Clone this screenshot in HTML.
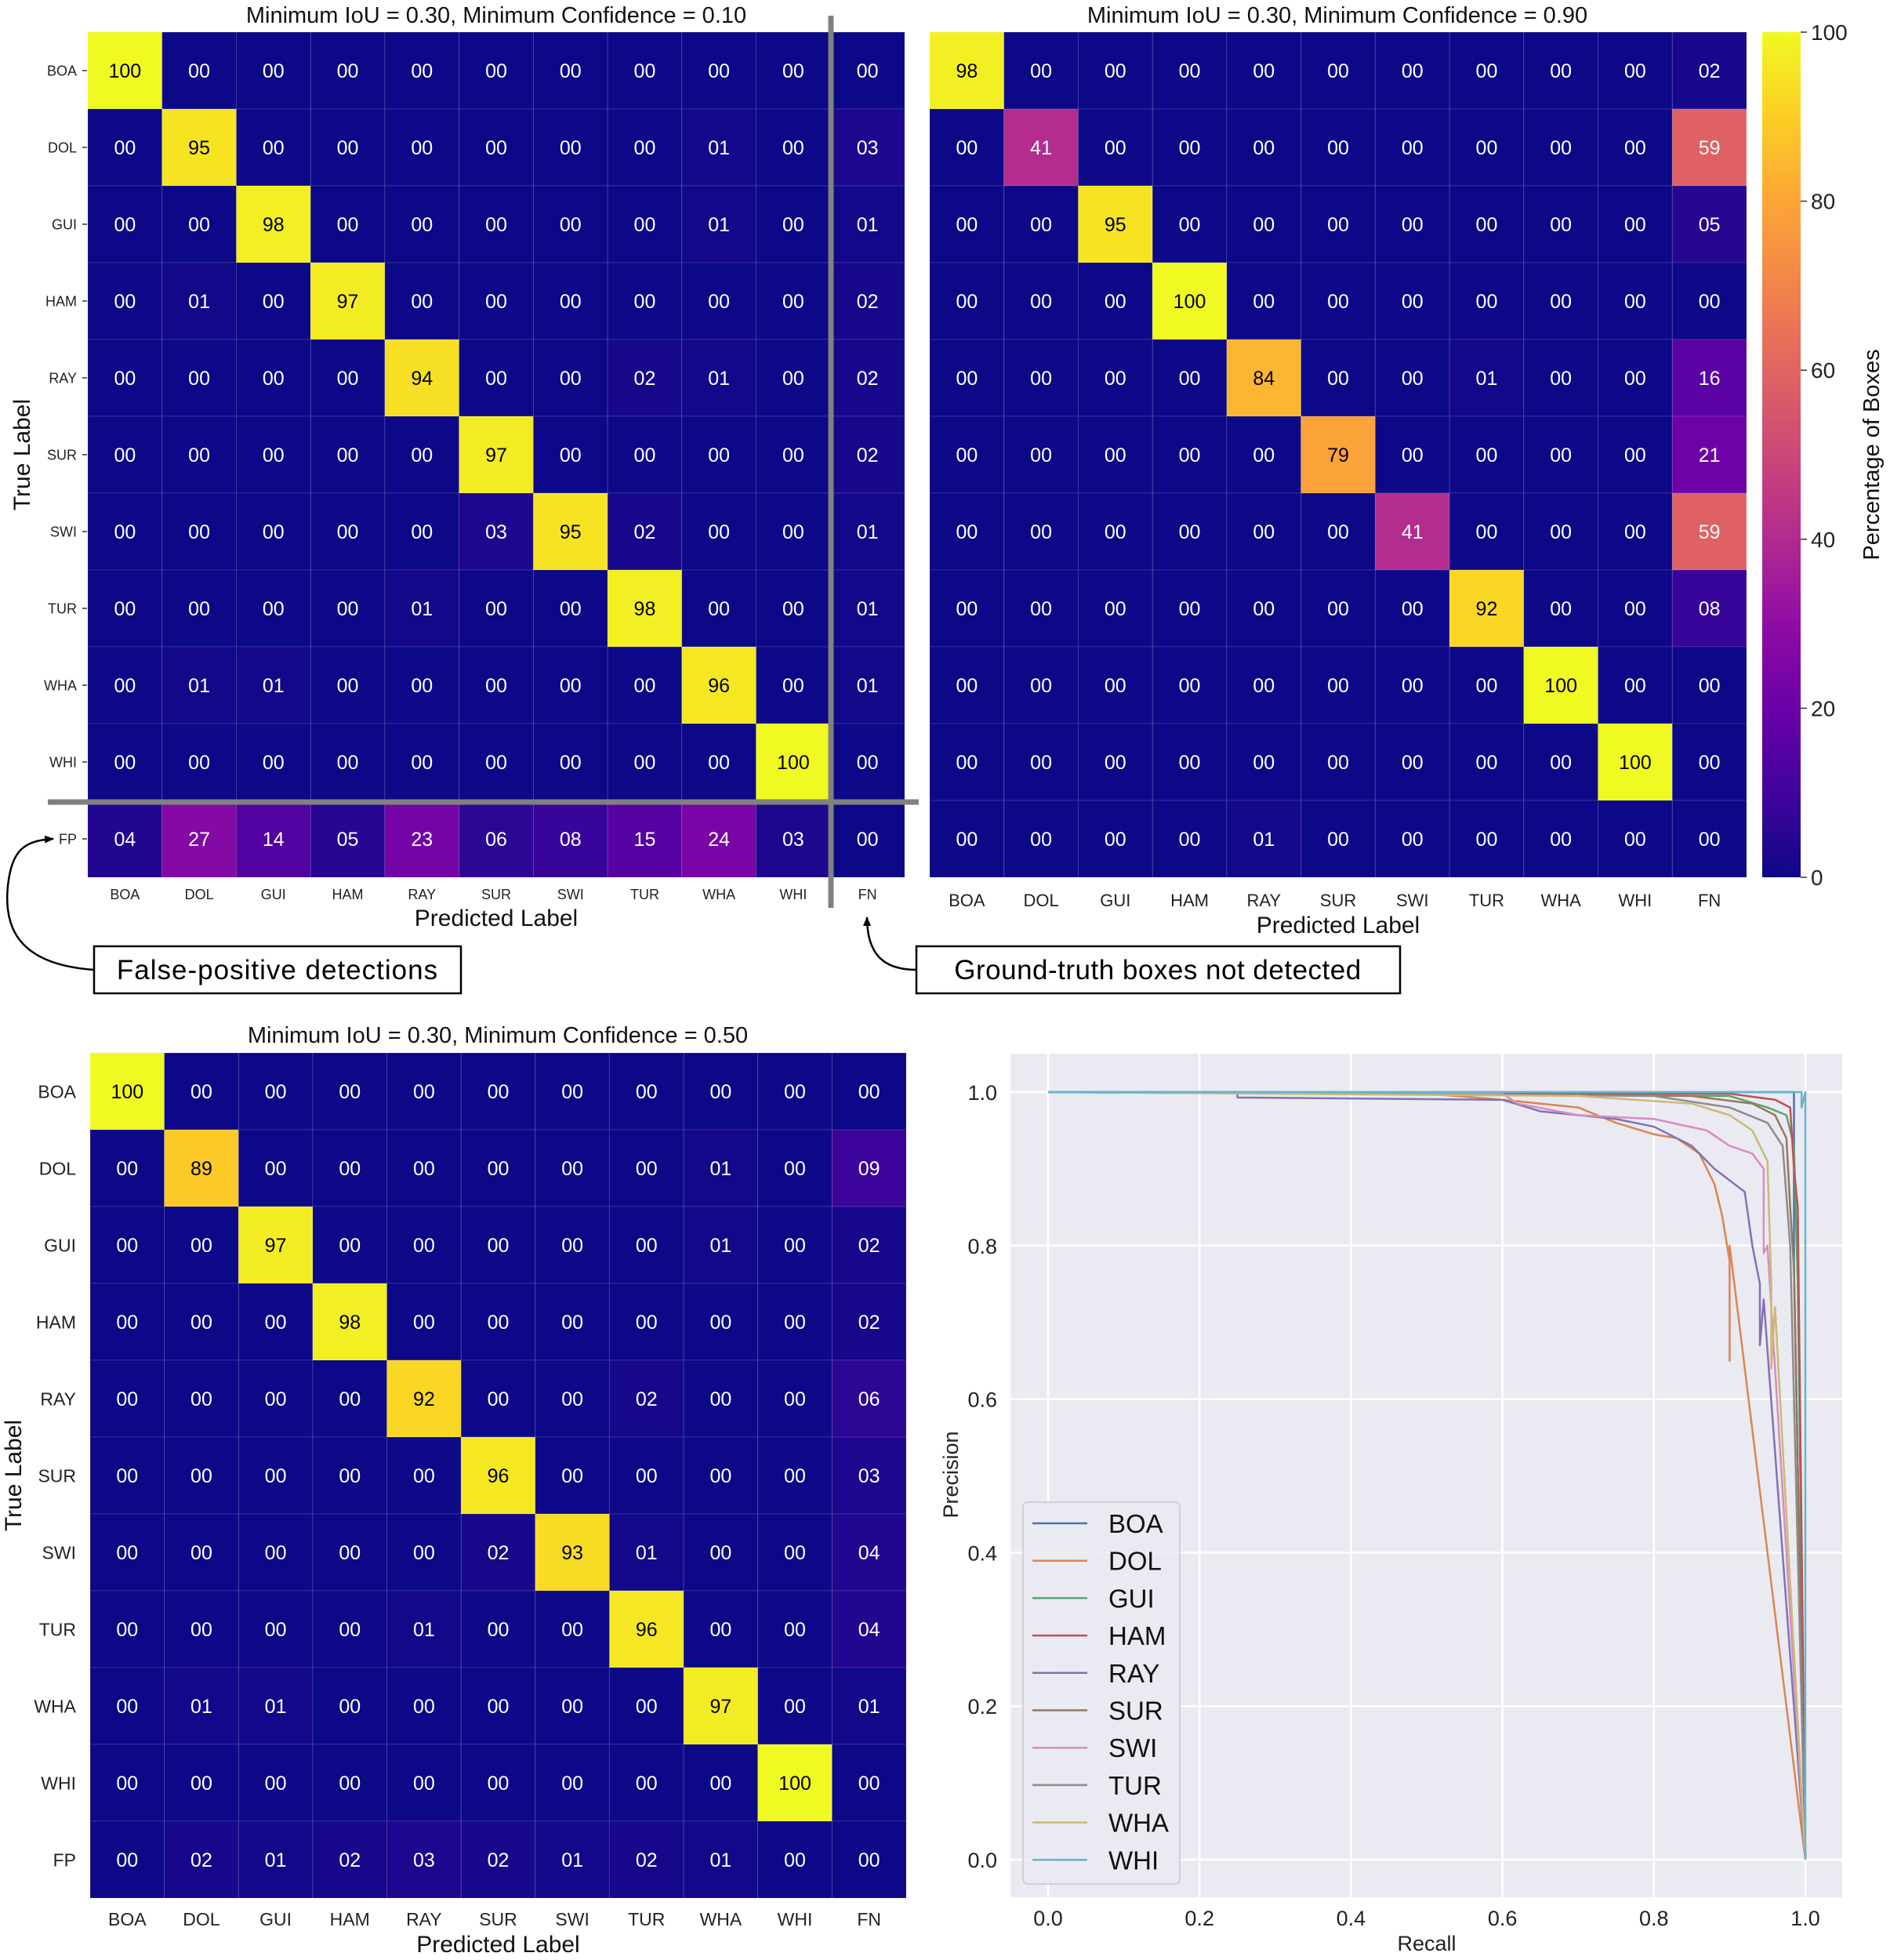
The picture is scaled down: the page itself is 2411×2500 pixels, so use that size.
<!DOCTYPE html>
<html><head><meta charset="utf-8"><style>
html,body{margin:0;padding:0;background:#fff}
svg{display:block;font-family:"Liberation Sans",sans-serif}
</style></head><body>
<svg id="fig" width="2411" height="2500" viewBox="0 0 2411 2500" xmlns="http://www.w3.org/2000/svg">
<defs>
<linearGradient id="plasmaGrad" x1="0" y1="1" x2="0" y2="0">
<stop offset="0" stop-color="#0d0887"/><stop offset="0.1" stop-color="#41049d"/><stop offset="0.2" stop-color="#6a00a8"/><stop offset="0.3" stop-color="#8f0da4"/><stop offset="0.4" stop-color="#b12a90"/><stop offset="0.5" stop-color="#cc4778"/><stop offset="0.6" stop-color="#e16462"/><stop offset="0.7" stop-color="#f2844b"/><stop offset="0.8" stop-color="#fca636"/><stop offset="0.9" stop-color="#fcce25"/><stop offset="1" stop-color="#f0f921"/>
</linearGradient>
<marker id="arrowHead" markerWidth="12" markerHeight="10" refX="11" refY="5" orient="auto" markerUnits="userSpaceOnUse"><path d="M0,0 L12,5 L0,10 Z" fill="#000"/></marker>
</defs>
</svg>
<script>
const rowLabels = ["BOA","DOL","GUI","HAM","RAY","SUR","SWI","TUR","WHA","WHI","FP"];
const colLabels = ["BOA","DOL","GUI","HAM","RAY","SUR","SWI","TUR","WHA","WHI","FN"];
const matrixConf010 = [
[100,0,0,0,0,0,0,0,0,0,0],
[0,95,0,0,0,0,0,0,1,0,3],
[0,0,98,0,0,0,0,0,1,0,1],
[0,1,0,97,0,0,0,0,0,0,2],
[0,0,0,0,94,0,0,2,1,0,2],
[0,0,0,0,0,97,0,0,0,0,2],
[0,0,0,0,0,3,95,2,0,0,1],
[0,0,0,0,1,0,0,98,0,0,1],
[0,1,1,0,0,0,0,0,96,0,1],
[0,0,0,0,0,0,0,0,0,100,0],
[4,27,14,5,23,6,8,15,24,3,0]];
const matrixConf090 = [
[98,0,0,0,0,0,0,0,0,0,2],
[0,41,0,0,0,0,0,0,0,0,59],
[0,0,95,0,0,0,0,0,0,0,5],
[0,0,0,100,0,0,0,0,0,0,0],
[0,0,0,0,84,0,0,1,0,0,16],
[0,0,0,0,0,79,0,0,0,0,21],
[0,0,0,0,0,0,41,0,0,0,59],
[0,0,0,0,0,0,0,92,0,0,8],
[0,0,0,0,0,0,0,0,100,0,0],
[0,0,0,0,0,0,0,0,0,100,0],
[0,0,0,0,1,0,0,0,0,0,0]];
const matrixConf050 = [
[100,0,0,0,0,0,0,0,0,0,0],
[0,89,0,0,0,0,0,0,1,0,9],
[0,0,97,0,0,0,0,0,1,0,2],
[0,0,0,98,0,0,0,0,0,0,2],
[0,0,0,0,92,0,0,2,0,0,6],
[0,0,0,0,0,96,0,0,0,0,3],
[0,0,0,0,0,2,93,1,0,0,4],
[0,0,0,0,1,0,0,96,0,0,4],
[0,1,1,0,0,0,0,0,97,0,1],
[0,0,0,0,0,0,0,0,0,100,0],
[0,2,1,2,3,2,1,2,1,0,0]];
const colorbarTicks = [0,20,40,60,80,100];

const prClasses = ["BOA","DOL","GUI","HAM","RAY","SUR","SWI","TUR","WHA","WHI"];
const prRecall = {
BOA:[0,0.985,0.985,1.0],
DOL:[0,0.5,0.6,0.7,0.75,0.8,0.83,0.86,0.88,0.89,0.9,0.9,0.9,1.0],
GUI:[0,0.9,0.95,0.975,0.985,0.99,1.0],
HAM:[0,0.9,0.96,0.98,0.985,0.99,1.0],
RAY:[0,0.25,0.25,0.6,0.65,0.75,0.8,0.85,0.88,0.92,0.93,0.94,0.94,0.945,1.0],
SUR:[0,0.85,0.93,0.96,0.975,0.98,0.985,1.0],
SWI:[0,0.6,0.62,0.7,0.8,0.87,0.9,0.93,0.945,0.945,0.95,1.0],
TUR:[0,0.8,0.9,0.95,0.97,0.98,1.0],
WHA:[0,0.7,0.85,0.9,0.93,0.95,0.955,0.955,0.96,1.0],
WHI:[0,0.995,0.995,1.0,1.0]};
const prPrecision = {
BOA:[1,1,0.77,0.0],
DOL:[1,0.998,0.99,0.98,0.96,0.945,0.94,0.92,0.88,0.84,0.78,0.65,0.8,0.0],
GUI:[1,0.995,0.98,0.97,0.93,0.75,0.0],
HAM:[1,0.998,0.99,0.98,0.9,0.85,0.0],
RAY:[1,1,0.993,0.99,0.975,0.965,0.955,0.93,0.9,0.87,0.8,0.75,0.67,0.73,0.0],
SUR:[1,0.995,0.985,0.97,0.94,0.85,0.77,0.0],
SWI:[1,0.998,0.985,0.97,0.965,0.95,0.93,0.92,0.9,0.79,0.8,0.0],
TUR:[1,0.995,0.98,0.96,0.93,0.8,0.0],
WHA:[1,0.995,0.985,0.97,0.95,0.91,0.75,0.64,0.72,0.0],
WHI:[1,1,0.98,1,0.0]};
const prTicks = [0,0.2,0.4,0.6,0.8,1.0];
const prColors = ["#4c72b0","#dd8452","#55a868","#c44e52","#8172b3","#937860","#da8bc3","#8c8c8c","#ccb974","#64b5cd"];

const NS="http://www.w3.org/2000/svg";
const svg=document.getElementById('fig');
function mk(tag,attrs,parent){const e=document.createElementNS(NS,tag);for(const k in attrs)e.setAttribute(k,attrs[k]);(parent||svg).appendChild(e);return e;}
function txt(s,attrs,parent){const e=mk('text',attrs,parent);e.textContent=s;return e;}
const stops=[[13,8,135],[65,4,157],[106,0,168],[143,13,164],[177,42,144],[204,71,120],[225,100,98],[242,132,75],[252,166,54],[252,206,37],[240,249,33]];
function plasma(v){let t=Math.max(0,Math.min(1,v/100))*10;let i=Math.min(9,Math.floor(t));let f=t-i;const a=stops[i],b=stops[i+1];return `rgb(${Math.round(a[0]+(b[0]-a[0])*f)},${Math.round(a[1]+(b[1]-a[1])*f)},${Math.round(a[2]+(b[2]-a[2])*f)})`;}
function fmt(v){return v<10?'0'+v:String(v);}

function heatmap(m,o){
  const g=mk('g',{});
  
  
  const n=m.length, cw=(o.x1-o.x0)/n, ch=(o.y1-o.y0)/n;
  const xs=c=>o.x0+c*cw, ys=r=>o.y0+r*ch;
  for(let r=0;r<n;r++)for(let c=0;c<n;c++){
    const v=m[r][c];
    const rc=mk('rect',{x:xs(c),y:ys(r),width:cw,height:ch,fill:plasma(v),stroke:'rgba(255,255,255,0.12)','stroke-width':1},g);
    
    
    const t=txt(fmt(v),{x:xs(c)+cw/2,y:ys(r)+ch/2+o.cf*0.36,'text-anchor':'middle','font-size':o.cf,fill:v>=70?'#000':'#fff'},g);
    
    
  }
  for(let c=0;c<n;c++){
    const t=txt(colLabels[c],{x:xs(c)+cw/2,y:o.xty,'text-anchor':'middle','font-size':o.tf,fill:'#222'},g);
    
    
  }
  if(o.ylabels){
    for(let r=0;r<n;r++){
      const t=txt(rowLabels[r],{x:o.x0-o.ytoff,y:ys(r)+ch/2+o.tf*0.36,'text-anchor':'end','font-size':o.tf,fill:'#222'},g);
      
      
      if(o.tickmark) mk('line',{x1:o.x0-7,x2:o.x0-1,y1:ys(r)+ch/2,y2:ys(r)+ch/2,stroke:'#333','stroke-width':1.5},g);
    }
    const yl=txt('True Label',{x:0,y:0,transform:`translate(${o.ylx},${(o.y0+o.y1)/2}) rotate(-90)`,'text-anchor':'middle','font-size':30,fill:'#111'},g);
    
    
  }
  const xl=txt('Predicted Label',{x:(o.x0+o.x1)/2,y:o.xly,'text-anchor':'middle','font-size':30,fill:'#111'},g);
  
  
  const tt=txt(o.title,{x:o.tx,y:o.ty,'text-anchor':'middle','font-size':29,fill:'#111'},g);
  
  
}
heatmap(matrixConf010,{name:'heatmap-conf-0-10',x0:112,x1:1154,y0:41,y1:1119,cf:25,tf:18,xty:1147,ylabels:true,ytoff:14,tickmark:true,ylx:38,xly:1181,title:'Minimum IoU = 0.30, Minimum Confidence = 0.10',tx:633,ty:29});
heatmap(matrixConf090,{name:'heatmap-conf-0-90',x0:1186,x1:2228,y0:41,y1:1119,cf:25,tf:22,xty:1156,ylabels:false,xly:1190,title:'Minimum IoU = 0.30, Minimum Confidence = 0.90',tx:1706,ty:29});
heatmap(matrixConf050,{name:'heatmap-conf-0-50',x0:115,x1:1156,y0:1343,y1:2421,cf:25,tf:23,xty:2456,ylabels:true,ytoff:18,tickmark:false,ylx:27,xly:2490,title:'Minimum IoU = 0.30, Minimum Confidence = 0.50',tx:635,ty:1330});

const s1=mk('line',{x1:1060,x2:1060,y1:20,y2:1158,stroke:'#808080','stroke-width':7});


const s2=mk('line',{x1:61,x2:1172,y1:1023,y2:1023,stroke:'#808080','stroke-width':7});



const cb=mk('g',{});


const cby0=41,cby1=1119,cbs=v=>cby1-(v/100)*(cby1-cby0);
mk('rect',{x:2248,y:cby0,width:49,height:cby1-cby0,fill:'url(#plasmaGrad)'},cb);
colorbarTicks.forEach(v=>{
  mk('line',{x1:2297,x2:2305,y1:cbs(v),y2:cbs(v),stroke:'#333','stroke-width':1.5},cb);
  const t=txt(String(v),{x:2310,y:cbs(v)+10,'font-size':28,fill:'#222'},cb);
  
  
});
const cbl=txt('Percentage of Boxes',{x:0,y:0,transform:`translate(2397,${(cby0+cby1)/2}) rotate(-90)`,'text-anchor':'middle','font-size':29,fill:'#111'},cb);



const a1=mk('g',{});


mk('rect',{x:120,y:1207,width:468,height:60,fill:'#fff',stroke:'#000','stroke-width':2.5},a1);
txt('False-positive detections',{x:354,y:1249,'text-anchor':'middle','font-size':35,fill:'#000','letter-spacing':'1'},a1);
mk('path',{d:'M120,1237 C20,1230 5,1180 10,1130 C15,1085 30,1072 68,1070',fill:'none',stroke:'#000','stroke-width':2.5,'marker-end':'url(#arrowHead)'},a1);
const a2=mk('g',{});


mk('rect',{x:1169,y:1207,width:617,height:60,fill:'#fff',stroke:'#000','stroke-width':2.5},a2);
txt('Ground-truth boxes not detected',{x:1477,y:1249,'text-anchor':'middle','font-size':35,fill:'#000','letter-spacing':'0.5'},a2);
mk('path',{d:'M1169,1237 C1125,1237 1106,1215 1106,1170',fill:'none',stroke:'#000','stroke-width':2.5,'marker-end':'url(#arrowHead)'},a2);

const pr=mk('g',{});


const px0=1337,px1=2303,py0=2372,py1=1393;
const X=v=>px0+v*(px1-px0), Y=v=>py0-v*(py0-py1);
mk('rect',{x:1289,y:1344,width:1061,height:1076,fill:'#eaeaf2'},pr);
prTicks.forEach(v=>{
  mk('line',{x1:X(v),x2:X(v),y1:1344,y2:2420,stroke:'#fff','stroke-width':2.5},pr);
  mk('line',{x1:1289,x2:2350,y1:Y(v),y2:Y(v),stroke:'#fff','stroke-width':2.5},pr);
  const tx=txt(v.toFixed(1),{x:X(v),y:2456,'text-anchor':'middle','font-size':27,fill:'#222'},pr);
  
  
  const ty=txt(v.toFixed(1),{x:1272,y:Y(v)+10,'text-anchor':'end','font-size':27,fill:'#222'},pr);
  
  
});
const rl=txt('Recall',{x:(px0+px1)/2,y:2488,'text-anchor':'middle','font-size':27,fill:'#222'},pr);


const pl=txt('Precision',{x:0,y:0,transform:'translate(1222,1881) rotate(-90)','text-anchor':'middle','font-size':27,fill:'#222'},pr);


prClasses.forEach((c,i)=>{
  const pts=prRecall[c].map((r,k)=>X(r)+','+Y(prPrecision[c][k])).join(' ');
  const ln=mk('polyline',{points:pts,fill:'none',stroke:prColors[i],'stroke-width':2.5,'stroke-linejoin':'round'},pr);
  
  
});
const lg=mk('g',{},pr);


mk('rect',{x:1305,y:1916,width:200,height:487,rx:6,fill:'#eaeaf2',stroke:'#d0d0d8','stroke-width':2,'fill-opacity':0.85},lg);
prClasses.forEach((c,i)=>{
  const y=1943+i*47.7;
  mk('line',{x1:1317,x2:1387,y1:y,y2:y,stroke:prColors[i],'stroke-width':2.5},lg);
  const t=txt(c,{x:1414,y:y+12,'font-size':33,fill:'#111'},lg);
  
  
});
</script>
</body></html>
